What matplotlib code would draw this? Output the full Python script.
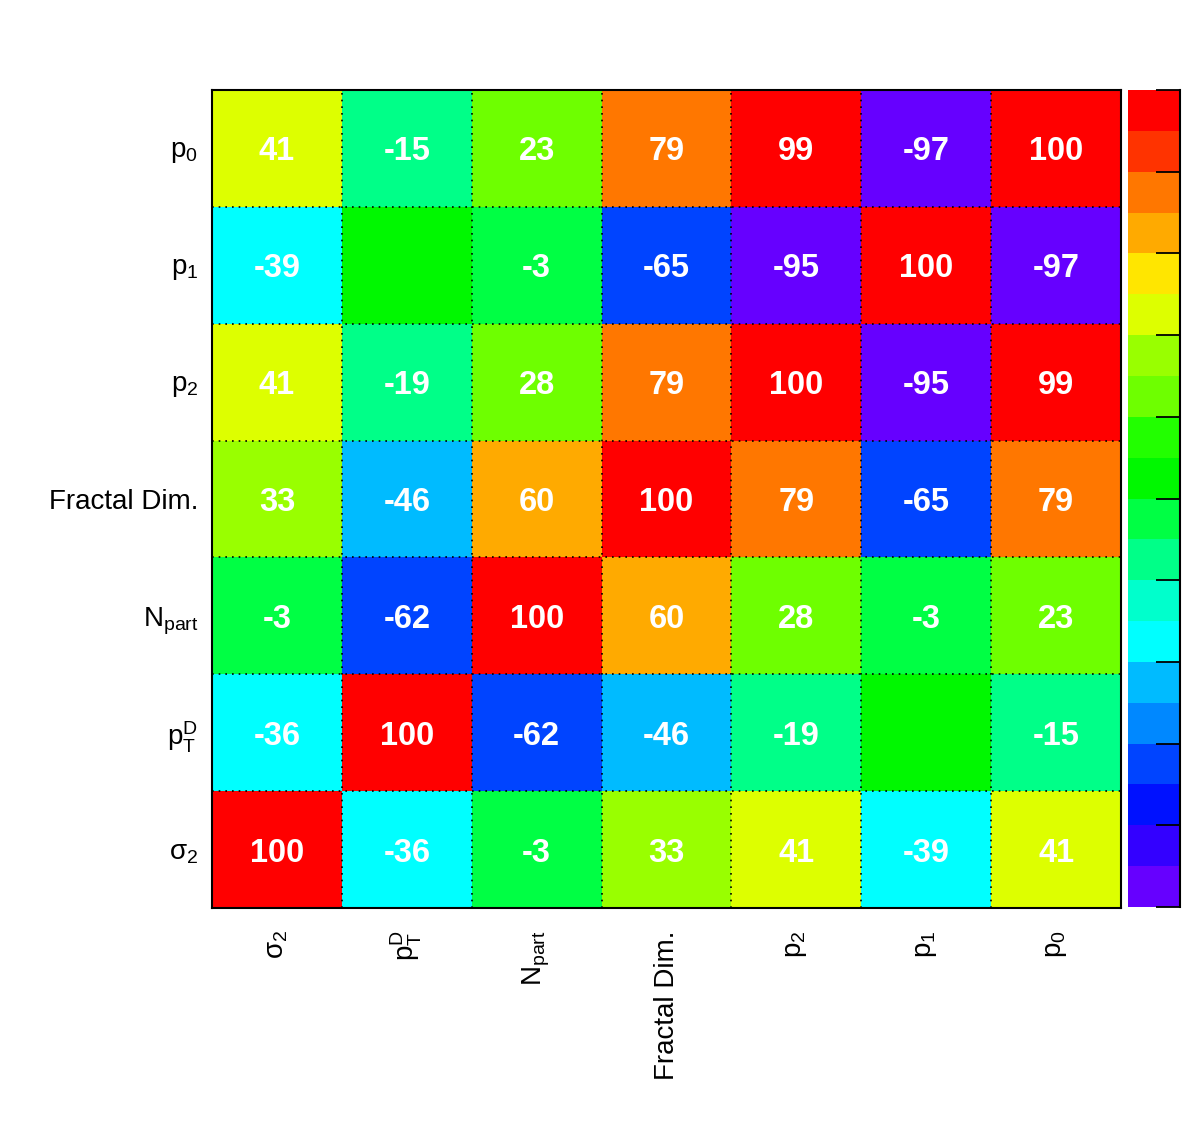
import numpy as np
import matplotlib
matplotlib.use("Agg")
import matplotlib.pyplot as plt
from matplotlib.colors import ListedColormap, BoundaryNorm

plt.rcParams['font.family'] = ['Liberation Sans', 'DejaVu Sans']
plt.rcParams['mathtext.fontset'] = 'custom'
plt.rcParams['mathtext.rm'] = 'Liberation Sans'
plt.rcParams['mathtext.it'] = 'Liberation Sans'

# Categories (left-to-right on x, bottom-to-top on y)
labels = [r'$\mathregular{σ_2}$', r'$\mathregular{p_T^D}$', r'$\mathregular{N_{part}}$',
          'Fractal Dim.', r'$\mathregular{p_2}$', r'$\mathregular{p_1}$', r'$\mathregular{p_0}$']

# Correlation values, rows from bottom (σ2) to top (p0), columns left to right
row_sigma2 = [100, -36, -3, 33, 41, -39, 41]
row_pT     = [-36, 100, -62, -46, -19, 0, -15]
row_Npart  = [-3, -62, 100, 60, 28, -3, 23]
row_FD     = [33, -46, 60, 100, 79, -65, 79]
row_p2     = [41, -19, 28, 79, 100, -95, 99]
row_p1     = [-39, 0, -3, -65, -95, 100, -97]
row_p0     = [41, -15, 23, 79, 99, -97, 100]

# palette levels from -100 (bottom) to +100 (top)
palette = ['#6600FF', '#3300FF', '#0011FF', '#0044FF', '#0088FF',
           '#00BBFF', '#00FFFF', '#00FFCC', '#00FF88', '#00FF44',
           '#00F800', '#22FF00', '#6EFF00', '#99FF00', '#DDFF00',
           '#FFE600', '#FFAA00', '#FF7700', '#FF3300', '#FF0000']

Z = np.array([row_sigma2, row_pT, row_Npart, row_FD, row_p2, row_p1, row_p0], dtype=float)
n = len(labels)

cmap = ListedColormap(palette)
cmap.set_over(palette[-1])
cmap.set_under(palette[0])
bounds = np.linspace(-100, 100, 21)
norm = BoundaryNorm(bounds, cmap.N)

W, H = 1182, 1136
fig = plt.figure(figsize=(W / 100, H / 100), dpi=100)
ax = fig.add_axes([212 / W, 1 - 908 / H, (1121 - 212) / W, (908 - 90) / H])
cax = fig.add_axes([1128 / W, 1 - 907 / H, (1180 - 1128) / W, (907 - 90) / H])

mesh = ax.pcolormesh(np.arange(n + 1), np.arange(n + 1), Z, cmap=cmap, norm=norm)

for i in range(1, n):
    ax.axvline(i, color='black', lw=1.2, ls=(0, (1, 3)))
    ax.axhline(i, color='black', lw=1.2, ls=(0, (1, 3)))

for r in range(n):
    for c in range(n):
        v = int(Z[r, c])
        if v != 0:
            ax.text(c + 0.5, r + 0.5, str(v), ha='center', va='center_baseline',
                    color='white', fontsize=23.5, fontweight='bold')

ax.set_xlim(0, n)
ax.set_ylim(0, n)
ax.set_xticks(np.arange(n) + 0.5)
ax.set_yticks(np.arange(n) + 0.5)
ax.set_xticklabels(labels, rotation=90, fontsize=20, va='top', ha='center')
ax.set_yticklabels(labels, fontsize=20)
ax.tick_params(axis='both', length=0)
ax.tick_params(axis='x', pad=16)
ax.tick_params(axis='y', pad=10)
for s in ax.spines.values():
    s.set_linewidth(1.5)

cb = fig.colorbar(mesh, cax=cax, ticks=np.arange(-100, 101, 20))
cb.outline.set_visible(False)
cax.minorticks_off()
cax.tick_params(axis='y', which='minor', length=0)
cax.tick_params(axis='y', which='major', direction='in', length=17, width=1.3,
                right=True, left=False, labelright=False, labelleft=False)
cax.plot([1, 1], [0, 1], transform=cax.transAxes, color='black', lw=1.5, clip_on=False)

fig.savefig('out.png', dpi=100)
